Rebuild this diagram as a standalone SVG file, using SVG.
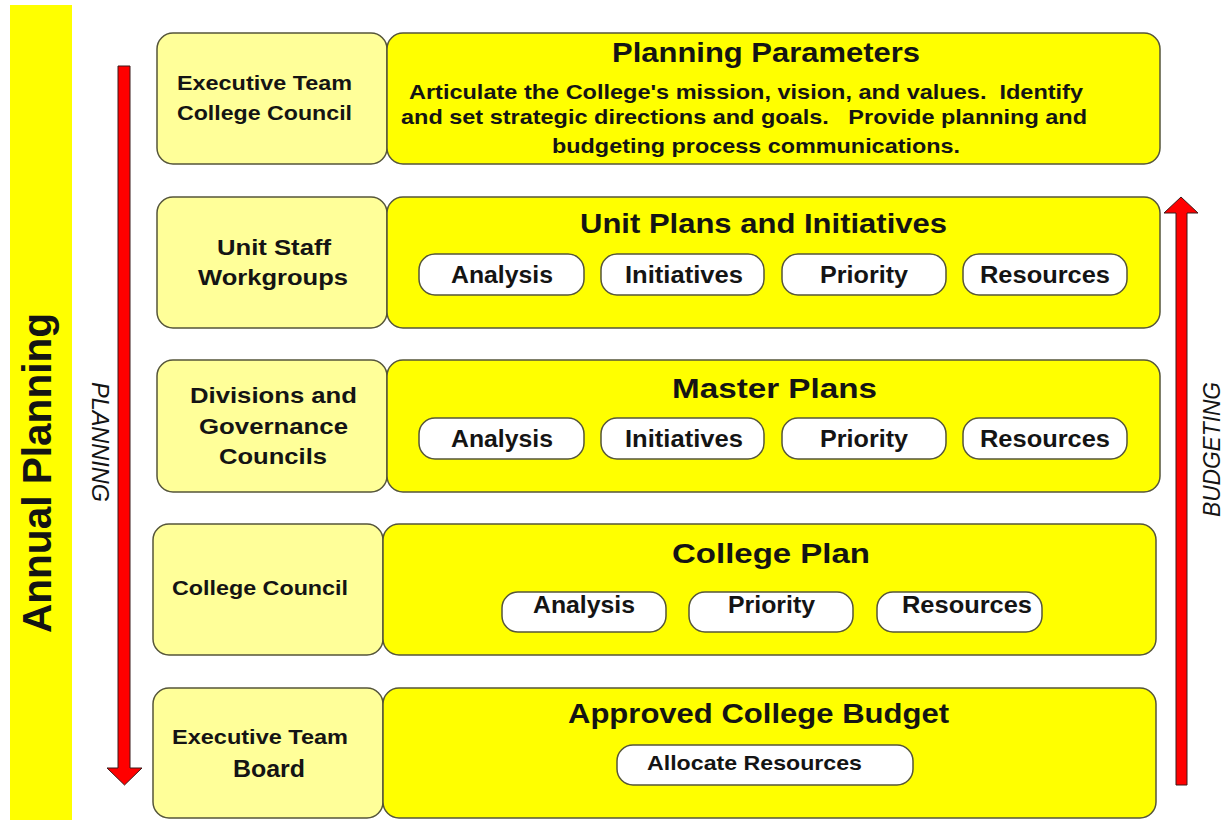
<svg xmlns="http://www.w3.org/2000/svg" width="1231" height="820" viewBox="0 0 1231 820">
  <style>
    .t { font-family: "Liberation Sans", Arial, sans-serif; font-weight: bold; fill: #141414; }
    .side { fill: #FFFF99; stroke: #55553a; stroke-width: 1.5; }
    .main { fill: #FFFF00; stroke: #55553a; stroke-width: 1.5; }
    .pill { fill: #FFFFFF; stroke: #55553a; stroke-width: 1.5; }
    .lbl { font-size: 20px; }
    .lbl2 { font-size: 22px; }
    .ttl { font-size: 28px; }
    .body { font-size: 21px; }
    .pt { font-size: 23px; }
    .it { font-family: "Liberation Sans", Arial, sans-serif; font-style: italic; font-size: 23px; fill: #141414; }
    .arrow { fill: #FF0000; stroke: #3a1a1a; stroke-width: 1; }
  </style>

  <!-- vertical banner -->
  <g id="annual-planning">
    <rect x="10" y="5" width="62" height="815" fill="#FFFF00"/>
    <text class="t" font-size="40" transform="translate(51,633) rotate(-90)" textLength="320" lengthAdjust="spacingAndGlyphs">Annual Planning</text>
  </g>

  <!-- flow arrows -->
  <g id="connectors">
    <polygon class="arrow" points="118,66 130,66 130,768 142,768 124.5,785 107,768 118,768"/>
    <polygon class="arrow" points="1176,785 1187,785 1187,213 1198,213 1181,197 1164,213 1176,213"/>
    <text class="it" transform="translate(92,382) rotate(90)" textLength="120" lengthAdjust="spacingAndGlyphs">PLANNING</text>
    <text class="it" transform="translate(1220,517) rotate(-90)" textLength="135" lengthAdjust="spacingAndGlyphs">BUDGETING</text>
  </g>

  <!-- row 1 -->
  <g id="row1-owner">
    <rect class="side" x="157" y="33" width="230" height="131" rx="16"/>
    <text class="t lbl" x="177" y="90" textLength="175" lengthAdjust="spacingAndGlyphs">Executive Team</text>
    <text class="t lbl" x="177" y="120" textLength="175" lengthAdjust="spacingAndGlyphs">College Council</text>
  </g>
  <g id="planning-parameters">
    <rect class="main" x="387" y="33" width="773" height="131" rx="16"/>
    <text class="t ttl" x="612" y="62" textLength="308" lengthAdjust="spacingAndGlyphs">Planning Parameters</text>
    <text class="t body" x="409" y="99" xml:space="preserve" textLength="674" lengthAdjust="spacingAndGlyphs">Articulate the College's mission, vision, and values.  Identify</text>
    <text class="t body" x="401" y="124" xml:space="preserve" textLength="686" lengthAdjust="spacingAndGlyphs">and set strategic directions and goals.   Provide planning and</text>
    <text class="t body" x="552" y="153" textLength="408" lengthAdjust="spacingAndGlyphs">budgeting process communications.</text>
  </g>

  <!-- row 2 -->
  <g id="row2-owner">
    <rect class="side" x="157" y="197" width="230" height="131" rx="16"/>
    <text class="t lbl2" x="217" y="255" textLength="114" lengthAdjust="spacingAndGlyphs">Unit Staff</text>
    <text class="t lbl2" x="198" y="285" textLength="150" lengthAdjust="spacingAndGlyphs">Workgroups</text>
  </g>
  <g id="unit-plans">
    <rect class="main" x="387" y="197" width="773" height="131" rx="16"/>
    <text class="t ttl" x="580" y="233" textLength="367" lengthAdjust="spacingAndGlyphs">Unit Plans and Initiatives</text>
    <rect class="pill" x="419" y="254" width="165" height="41" rx="16"/>
    <rect class="pill" x="601" y="254" width="163" height="41" rx="16"/>
    <rect class="pill" x="782" y="254" width="164" height="41" rx="16"/>
    <rect class="pill" x="963" y="254" width="164" height="41" rx="16"/>
    <text class="t pt" x="451" y="283" textLength="102" lengthAdjust="spacingAndGlyphs">Analysis</text>
    <text class="t pt" x="625" y="283" textLength="118" lengthAdjust="spacingAndGlyphs">Initiatives</text>
    <text class="t pt" x="820" y="283" textLength="88" lengthAdjust="spacingAndGlyphs">Priority</text>
    <text class="t pt" x="980" y="283" textLength="130" lengthAdjust="spacingAndGlyphs">Resources</text>
  </g>

  <!-- row 3 -->
  <g id="row3-owner">
    <rect class="side" x="157" y="360" width="230" height="132" rx="16"/>
    <text class="t lbl2" x="190" y="403" textLength="167" lengthAdjust="spacingAndGlyphs">Divisions and</text>
    <text class="t lbl2" x="199" y="434" textLength="149" lengthAdjust="spacingAndGlyphs">Governance</text>
    <text class="t lbl2" x="219" y="464" textLength="108" lengthAdjust="spacingAndGlyphs">Councils</text>
  </g>
  <g id="master-plans">
    <rect class="main" x="387" y="360" width="773" height="132" rx="16"/>
    <text class="t ttl" font-size="29" x="672" y="398" textLength="205" lengthAdjust="spacingAndGlyphs">Master Plans</text>
    <rect class="pill" x="419" y="418" width="165" height="41" rx="16"/>
    <rect class="pill" x="601" y="418" width="163" height="41" rx="16"/>
    <rect class="pill" x="782" y="418" width="164" height="41" rx="16"/>
    <rect class="pill" x="963" y="418" width="164" height="41" rx="16"/>
    <text class="t pt" x="451" y="447" textLength="102" lengthAdjust="spacingAndGlyphs">Analysis</text>
    <text class="t pt" x="625" y="447" textLength="118" lengthAdjust="spacingAndGlyphs">Initiatives</text>
    <text class="t pt" x="820" y="447" textLength="88" lengthAdjust="spacingAndGlyphs">Priority</text>
    <text class="t pt" x="980" y="447" textLength="130" lengthAdjust="spacingAndGlyphs">Resources</text>
  </g>

  <!-- row 4 -->
  <g id="row4-owner">
    <rect class="side" x="153" y="524" width="230" height="131" rx="16"/>
    <text class="t lbl" x="172" y="595" textLength="176" lengthAdjust="spacingAndGlyphs">College Council</text>
  </g>
  <g id="college-plan">
    <rect class="main" x="383" y="524" width="773" height="131" rx="16"/>
    <text class="t ttl" x="672" y="563" textLength="198" lengthAdjust="spacingAndGlyphs">College Plan</text>
    <rect class="pill" x="502" y="592" width="164" height="40" rx="16"/>
    <rect class="pill" x="689" y="592" width="164" height="40" rx="16"/>
    <rect class="pill" x="877" y="592" width="165" height="40" rx="16"/>
    <text class="t pt" font-size="22" x="533" y="613" textLength="102" lengthAdjust="spacingAndGlyphs">Analysis</text>
    <text class="t pt" font-size="22" x="728" y="613" textLength="87" lengthAdjust="spacingAndGlyphs">Priority</text>
    <text class="t pt" font-size="22" x="902" y="613" textLength="130" lengthAdjust="spacingAndGlyphs">Resources</text>
  </g>

  <!-- row 5 -->
  <g id="row5-owner">
    <rect class="side" x="153" y="688" width="230" height="130" rx="16"/>
    <text class="t lbl" x="172" y="744" textLength="176" lengthAdjust="spacingAndGlyphs">Executive Team</text>
    <text class="t" font-size="24" x="233" y="777" textLength="72" lengthAdjust="spacingAndGlyphs">Board</text>
  </g>
  <g id="approved-budget">
    <rect class="main" x="383" y="688" width="773" height="130" rx="16"/>
    <text class="t" font-size="27" x="568" y="723" textLength="381" lengthAdjust="spacingAndGlyphs">Approved College Budget</text>
    <rect class="pill" x="617" y="745" width="296" height="40" rx="16"/>
    <text class="t" font-size="21" x="647" y="770" textLength="215" lengthAdjust="spacingAndGlyphs">Allocate Resources</text>
  </g>
</svg>
